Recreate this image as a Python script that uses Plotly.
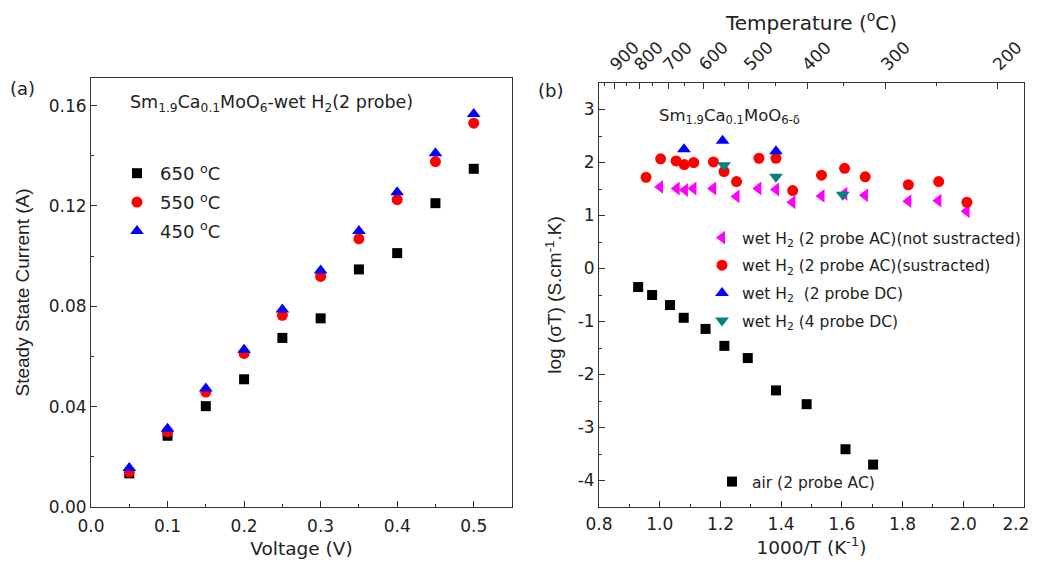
import plotly.graph_objects as go

# ---- panel (a): steady state current vs voltage
voltage = [0.05, 0.10, 0.15, 0.20, 0.25, 0.30, 0.35, 0.40, 0.45, 0.50]
i_650 = [0.0134, 0.0284, 0.0402, 0.0509, 0.0674, 0.0752, 0.0947, 0.1012, 0.1211, 0.1348]
i_550 = [0.0140, 0.0300, 0.0458, 0.0612, 0.0764, 0.0919, 0.1069, 0.1225, 0.1377, 0.1530]
i_450 = [0.0155, 0.0312, 0.0472, 0.0627, 0.0787, 0.0943, 0.1100, 0.1255, 0.1410, 0.1567]

# ---- panel (b): log(sigma T) vs 1000/T
x_not_sub = [1.001, 1.056, 1.083, 1.111, 1.176, 1.253, 1.325, 1.383, 1.437, 1.533, 1.608, 1.676, 1.819, 1.918, 2.011]
y_not_sub = [1.54, 1.51, 1.48, 1.51, 1.51, 1.36, 1.51, 1.49, 1.25, 1.37, 1.41, 1.38, 1.27, 1.28, 1.08]

x_sub = [0.955, 1.003, 1.054, 1.081, 1.112, 1.177, 1.212, 1.253, 1.327, 1.383, 1.438, 1.533, 1.609, 1.677, 1.819, 1.919, 2.012]
y_sub = [1.72, 2.07, 2.03, 1.96, 2.00, 2.01, 1.83, 1.64, 2.08, 2.08, 1.47, 1.76, 1.89, 1.73, 1.58, 1.64, 1.25]

x_dc2 = [1.080, 1.207, 1.383]
y_dc2 = [2.25, 2.41, 2.21]

x_dc4 = [1.212, 1.383, 1.603]
y_dc4 = [1.95, 1.73, 1.39]

x_air = [0.929, 0.975, 1.034, 1.079, 1.151, 1.213, 1.290, 1.383, 1.484, 1.612, 1.703]
y_air = [-0.35, -0.50, -0.69, -0.93, -1.14, -1.46, -1.69, -2.30, -2.56, -3.41, -3.70]

temp_major = [900, 800, 700, 600, 500, 400, 300, 200]
temp_minor = [950, 850, 750, 650, 550, 450, 350, 250]
b_yticks = [-4, -3, -2, -1, 0, 1, 2, 3]
b_xticks = [0.8, 1.0, 1.2, 1.4, 1.6, 1.8, 2.0, 2.2]

WIDE = "DejaVu Sans, Arial, sans-serif"        # horizontal text looks stretched in the original
NARROW = "Liberation Sans, Arial, sans-serif"  # rotated axis titles

# the page body has an 8px margin, so work in screen pixels and shift
W, H = 1040, 554
def px(sx):
    return (sx - 8) / W
def py(sy):
    return 1 - (sy - 8) / H

def inv_t(t):
    return 1000 / (t + 273.15)

# last label sits on the window edge, nudge it in with trailing nbsp
b_xtext = [f"{v:.1f}" for v in b_xticks]
b_xtext[-1] += "\u00a0\u00a0\u00a0"

fig = go.Figure()

# panel (a)
fig.add_trace(go.Scatter(x=voltage, y=i_650, mode="markers", name="650 <sup>o</sup>C",
                         marker=dict(symbol="square", size=10, color="black"),
                         xaxis="x", yaxis="y", legend="legend", legendgroup="a1"))
fig.add_trace(go.Scatter(x=voltage, y=i_550, mode="markers", name="550 <sup>o</sup>C",
                         marker=dict(symbol="circle", size=11, color="#ff0000"),
                         xaxis="x", yaxis="y", legend="legend", legendgroup="a2"))
fig.add_trace(go.Scatter(x=voltage, y=i_450, mode="markers", name="450 <sup>o</sup>C",
                         marker=dict(symbol="triangle-up", size=12, color="#0000ff"),
                         xaxis="x", yaxis="y", legend="legend", legendgroup="a3"))

# panel (b)
fig.add_trace(go.Scatter(x=x_not_sub, y=y_not_sub, mode="markers",
                         name="wet H<sub>2</sub> (2 probe AC)(not sustracted)",
                         marker=dict(symbol="triangle-left", size=12, color="#ff00ff"),
                         xaxis="x2", yaxis="y2", legend="legend2", legendgroup="b1"))
fig.add_trace(go.Scatter(x=x_sub, y=y_sub, mode="markers",
                         name="wet H<sub>2</sub> (2 probe AC)(sustracted)",
                         marker=dict(symbol="circle", size=11, color="#ff0000"),
                         xaxis="x2", yaxis="y2", legend="legend2", legendgroup="b2"))
fig.add_trace(go.Scatter(x=x_dc2, y=y_dc2, mode="markers",
                         name="wet H<sub>2</sub>  (2 probe DC)",
                         marker=dict(symbol="triangle-up", size=12, color="#0000ff"),
                         xaxis="x2", yaxis="y2", legend="legend2", legendgroup="b3"))
fig.add_trace(go.Scatter(x=x_dc4, y=y_dc4, mode="markers",
                         name="wet H<sub>2</sub> (4 probe DC)",
                         marker=dict(symbol="triangle-down", size=12, color="#008080"),
                         xaxis="x2", yaxis="y2", legend="legend2", legendgroup="b4"))
fig.add_trace(go.Scatter(x=x_air, y=y_air, mode="markers",
                         name="air (2 probe AC)",
                         marker=dict(symbol="square", size=10, color="black"),
                         xaxis="x2", yaxis="y2", legend="legend3"))
# empty trace so the temperature axis gets drawn
fig.add_trace(go.Scatter(x=[], y=[], xaxis="x3", yaxis="y2", showlegend=False))

axis_common = dict(showline=True, linecolor="#333", linewidth=1, mirror=True,
                   ticks="inside", ticklen=6, tickcolor="#333", showgrid=False,
                   zeroline=False, automargin=False, ticklabeloverflow="allow",
                   tickfont=dict(family=WIDE, size=17, color="#222"),
                   title_font=dict(family=WIDE, size=18.5, color="#222"))
minor_common = dict(ticks="inside", ticklen=3, tickcolor="#333")

# rotated temperature labels on the top axis
temp_labels = [
    dict(text=str(t), x=inv_t(t), xref="x2", y=py(83), yref="paper", showarrow=False,
         textangle=-45, xanchor="left", yanchor="bottom", xshift=-12, yshift=6,
         font=dict(family=WIDE, size=17, color="#222"))
    for t in temp_major
]

fig.update_layout(
    width=W, height=H,
    margin=dict(l=0, r=0, t=0, b=0),
    plot_bgcolor="white", paper_bgcolor="white",
    font=dict(family=WIDE, color="#222"),
    xaxis=dict(axis_common, domain=[px(91), px(512)], range=[0, 0.55],
               tickvals=[0, 0.1, 0.2, 0.3, 0.4, 0.5], tickformat=".1f",
               ticklabelstandoff=4,
               minor=dict(minor_common, dtick=0.05, tick0=0),
               title=dict(text="Voltage (V)", standoff=6)),
    yaxis=dict(axis_common, domain=[py(507), py(78)], range=[0, 0.171],
               dtick=0.04, tick0=0, tickformat=".2f",
               minor=dict(minor_common, dtick=0.02, tick0=0),
               title=dict(text="Steady State Current (A)", standoff=14,
                          font=dict(family=NARROW, size=19))),
    xaxis2=dict(axis_common, domain=[px(599), px(1024)], range=[0.8, 2.2], anchor="y2",
                tickvals=b_xticks, ticktext=b_xtext, mirror=False,
                ticklabelstandoff=2,
                minor=dict(minor_common, dtick=0.1, tick0=0.8),
                title=dict(text="1000/T (K<sup>-1</sup>)", standoff=6)),
    yaxis2=dict(axis_common, domain=[py(507), py(83)], range=[-4.5, 3.5], anchor="x2",
                tickvals=b_yticks, ticktext=[str(v) for v in b_yticks],
                minor=dict(minor_common, dtick=0.5, tick0=0),
                title=dict(text="log (σT) (S.cm<sup>-1</sup>.K)", standoff=10,
                           font=dict(family=NARROW, size=19))),
    xaxis3=dict(axis_common, overlaying="x2", side="top", anchor="y2", range=[0.8, 2.2],
                mirror=False, showticklabels=False,
                tickvals=[inv_t(t) for t in temp_major],
                minor=dict(minor_common, tickvals=[inv_t(t) for t in temp_minor]),
                title=dict(text="Temperature (<sup>o</sup>C)", standoff=46,
                           font=dict(size=20))),
    legend=dict(x=px(114), y=py(155), xanchor="left", yanchor="top", bgcolor="rgba(0,0,0,0)",
                font=dict(size=18), tracegroupgap=2.5, itemwidth=36),
    legend2=dict(x=px(702), y=py(221), xanchor="left", yanchor="top", bgcolor="rgba(0,0,0,0)",
                 font=dict(size=15.5), tracegroupgap=4.5, itemwidth=30),
    legend3=dict(x=px(712), y=py(465), xanchor="left", yanchor="top", bgcolor="rgba(0,0,0,0)",
                 font=dict(size=15.5), itemwidth=30),
    annotations=[
        dict(text="(a)", x=px(8), y=py(88), xref="paper", yref="paper", showarrow=False,
             xanchor="left", yanchor="middle", font=dict(size=18)),
        dict(text="(b)", x=px(536), y=py(90), xref="paper", yref="paper", showarrow=False,
             xanchor="left", yanchor="middle", font=dict(size=18)),
        dict(text="Sm<sub>1.9</sub>Ca<sub>0.1</sub>MoO<sub>6</sub>-wet H<sub>2</sub>(2 probe)",
             x=px(128), y=py(103), xref="paper", yref="paper", showarrow=False,
             xanchor="left", yanchor="middle", font=dict(size=17.5)),
        dict(text="Sm<sub>1.9</sub>Ca<sub>0.1</sub>MoO<sub>6-δ</sub>",
             x=px(657), y=py(116), xref="paper", yref="paper", showarrow=False,
             xanchor="left", yanchor="middle", font=dict(size=16.5)),
    ] + temp_labels,
)

fig.write_html("out.html")
